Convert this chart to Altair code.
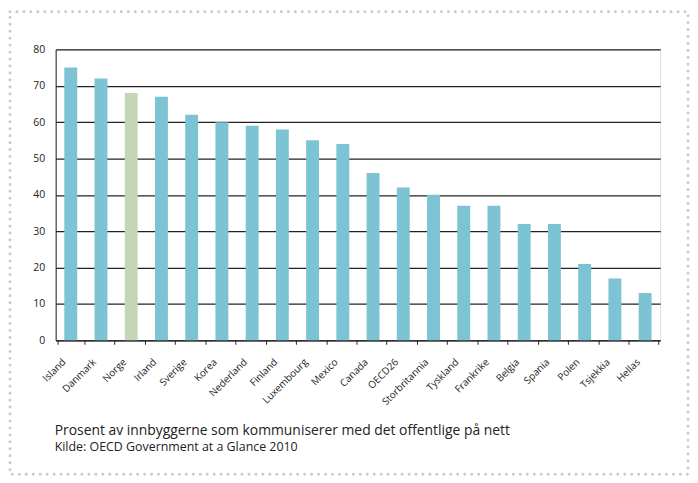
import altair as alt
import pandas as pd

countries = ["Island", "Danmark", "Norge", "Irland", "Sverige", "Korea", "Nederland",
             "Finland", "Luxembourg", "Mexico", "Canada", "OECD26", "Storbritannia",
             "Tyskland", "Frankrike", "Belgia", "Spania", "Polen", "Tsjekkia", "Hellas"]
values = [75, 72, 68, 67, 62, 60, 59, 58, 55, 54, 46, 42, 40, 37, 37, 32, 32, 21, 17, 13]
highlight = ["Norge"]
title_text = "Prosent av innbyggerne som kommuniserer med det offentlige på nett"
source_text = "Kilde: OECD Government at a Glance 2010"

df = pd.DataFrame({"land": countries, "verdi": values})
df["gruppe"] = ["Norge" if c in highlight else "Andre" for c in countries]
one = pd.DataFrame({"a": [0]})

FONT = "Open Sans"
INK = "#222222"

bars = alt.Chart(df).mark_bar(size=13).encode(
    x=alt.X("land:N", sort=countries, title=None,
            axis=alt.Axis(labelAngle=-45, labelAlign="right", labelBaseline="middle",
                          labelFontSize=10, labelFont=FONT, labelColor=INK,
                          tickBand="extent", ticks=True, tickSize=4, tickColor=INK,
                          domainColor=INK, labelPadding=16, labelOffset=-7, grid=False)),
    y=alt.Y("verdi:Q", scale=alt.Scale(domain=[0, 80]), title=None,
            axis=alt.Axis(values=[0, 10, 20, 30, 40, 50, 60, 70, 80], ticks=False,
                          labelPadding=11, labelFontSize=10.5, labelFont=FONT,
                          labelColor=INK, domainColor=INK,
                          grid=True, gridColor=INK, gridWidth=1.2)),
    color=alt.Color("gruppe:N",
                    scale=alt.Scale(domain=["Andre", "Norge"], range=["#7cc3d3", "#c3d6b8"]),
                    legend=None),
)

frame = alt.Chart(one).mark_rect(
    fill=None, stroke="#cdc9d1", strokeWidth=3, strokeDash=[0.01, 7], strokeCap="round"
).encode(x=alt.value(-46), x2=alt.value(637), y=alt.value(-38), y2=alt.value(428))

title = alt.Chart(one).mark_text(
    text=title_text, font=FONT, fontSize=14, color=INK, align="left", baseline="alphabetic"
).encode(x=alt.value(-1), y=alt.value(388))

source = alt.Chart(one).mark_text(
    text=source_text, font=FONT, fontSize=12.5, color=INK, align="left", baseline="alphabetic"
).encode(x=alt.value(-1), y=alt.value(405))

chart = alt.layer(bars, frame, title, source).properties(
    width=609, height=293,
    padding={"left": 0, "top": 0, "right": 0, "bottom": 0},
).configure_view(stroke=INK, strokeWidth=1.2).configure(background="white")

chart.save("out.html", embed_options={"renderer": "svg", "actions": False})
